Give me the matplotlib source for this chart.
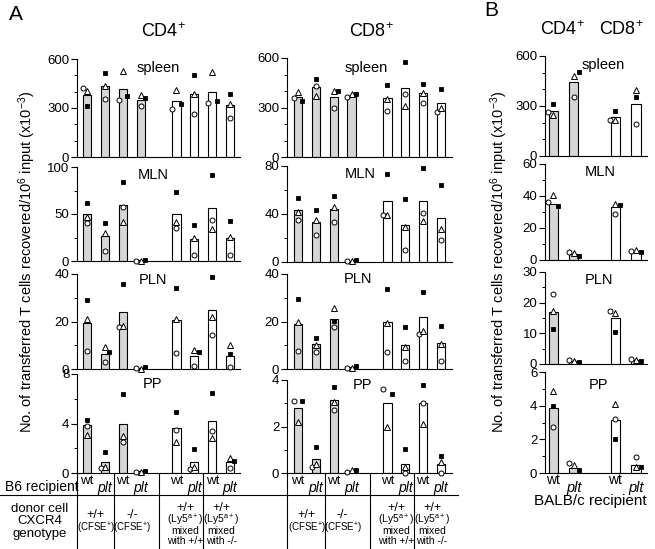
import numpy as np
import matplotlib
matplotlib.use("Agg")
import matplotlib.pyplot as plt
from matplotlib.lines import Line2D
from matplotlib.ticker import MultipleLocator
from matplotlib.transforms import blended_transform_factory

plt.rcParams['font.family'] = ['Liberation Sans', 'DejaVu Sans']
plt.rcParams['mathtext.fontset'] = 'custom'
plt.rcParams['mathtext.rm'] = 'Liberation Sans'
plt.rcParams['mathtext.it'] = 'Liberation Sans:italic'
plt.rcParams['mathtext.bf'] = 'Liberation Sans:bold'

# ------------------------------------------------------------------ data
# Panel A, CD4+ (8 bars: wt/plt recipients x 4 donor groups)
CD4_SPLEEN_BAR = [378, 434, 416, 352, 345, 386, 400, 316]
CD4_SPLEEN_O = [420, 354, 348, 314, 296, 265, 331, 238]
CD4_SPLEEN_T = [405, 434, 527, 379, 410, 385, 523, 327]
CD4_SPLEEN_S = [310, 513, 374, 362, 323, 503, 341, 383]

CD4_MLN_BAR = [50, 27, 60, 0.7, 50, 23.5, 56, 25]
CD4_MLN_O = [40.6, 11, 57, 0.5, 35.5, 6.5, 43.5, 6.5]
CD4_MLN_T = [47, 30, 42, 0.4, 42, 24.6, 34, 25.5]
CD4_MLN_S = [62, 40.6, 84, 1.2, 73, 38, 91, 42.8]

CD4_PLN_BAR = [19.3, 6.4, 23.8, 0.5, 20.7, 5.5, 25, 5.6]
CD4_PLN_O = [7.6, 3.1, 17.5, 0.3, 6.9, 1.4, 14.4, 1.0]
CD4_PLN_T = [21, 9.2, 17.9, 0.2, 21, 8, 22, 9.9]
CD4_PLN_S = [28.9, 7.3, 35.8, 0.9, 34, 7, 38.6, 6.3]

CD4_PP_BAR = [3.9, 0.9, 4.0, 0.13, 3.6, 0.9, 4.2, 0.9]
CD4_PP_O = [3.8, 0.4, 2.5, 0.1, 3.5, 0.35, 3.4, 0.4]
CD4_PP_T = [3.1, 0.5, 3.0, 0.1, 2.5, 0.5, 2.8, 1.2]
CD4_PP_S = [4.3, 1.7, 6.4, 0.2, 4.9, 1.9, 6.5, 0.93]

# Panel A, CD8+
CD8_SPLEEN_BAR = [362, 427, 366, 370, 356, 417, 386, 330]
CD8_SPLEEN_O = [356, 431, 299, 366, 279, 380, 330, 275]
CD8_SPLEEN_T = [393, 372, 397, 380, 352, 309, 386, 295]
CD8_SPLEEN_S = [340, 474, 403, 380, 437, 574, 441, 411]

CD8_MLN_BAR = [43, 33, 44, 1.0, 50.5, 30.5, 51, 36.7]
CD8_MLN_O = [34.7, 22.8, 33, 0.8, 39.4, 10.3, 40.8, 18.6]
CD8_MLN_T = [41.7, 35, 46, 0.5, 39.4, 29, 34.4, 27.5]
CD8_MLN_S = [53, 43, 55, 1.5, 73.6, 52.5, 78, 64.4]

CD8_PLN_BAR = [19, 10.4, 21, 0.7, 19.6, 10, 21.7, 10.8]
CD8_PLN_O = [7.6, 7.3, 17.5, 0.5, 7.3, 3.4, 14.6, 3.4]
CD8_PLN_T = [20, 9.9, 25.6, 0.3, 19.3, 9.2, 15.8, 10.4]
CD8_PLN_S = [29.6, 13, 20.4, 1.4, 33.8, 17.6, 32.4, 18.2]

CD8_PP_BAR = [2.8, 0.62, 3.15, 0.1, 3.0, 0.4, 3.0, 0.4]
CD8_PP_O = [3.1, 0.26, 2.7, 0.05, 3.6, 0.0, 3.0, 0.0]
CD8_PP_T = [2.2, 0.4, 3.05, 0.12, 2.0, 0.26, 2.1, 0.46]
CD8_PP_S = [3.1, 1.1, 3.7, 0.12, 3.4, 1.05, 3.8, 0.75]

# Panel B (CD4 wt, CD4 plt, CD8 wt, CD8 plt), BALB/c recipients
B_SPLEEN_BAR = [272, 446, 232, 312]
B_SPLEEN_O = [266, 352, 216, 192]
B_SPLEEN_T = [246, 480, 216, 396]
B_SPLEEN_S = [312, 506, 270, 356]

B_MLN_BAR = [35, 3.5, 33, 5.5]
B_MLN_O = [36.3, 5.1, 29, 5.5]
B_MLN_T = [40.8, 4.1, 35.3, 6.1]
B_MLN_S = [33.7, 2.4, 34.3, 4.9]

B_PLN_BAR = [17, 0.9, 14.9, 1.3]
B_PLN_O = [22.7, 1.2, 17.2, 1.5]
B_PLN_T = [17.2, 1.0, 16.5, 1.3]
B_PLN_S = [11.5, 0.7, 10.4, 1.0]

B_PP_BAR = [3.86, 0.3, 3.17, 0.45]
B_PP_O = [2.73, 0.6, 3.23, 0.93]
B_PP_T = [4.9, 0.45, 4.1, 0.34]
B_PP_S = [3.96, 0.16, 2.04, 0.34]

ORGANS = ['spleen', 'MLN', 'PLN', 'PP']
RECIPIENT_LABELS = ['wt', 'plt']
GENOTYPE_TOP = ['+/+', '-/-', '+/+', '+/+']
GENOTYPE_SUB_A = ['(CFSE$^{\\mathregular{+}}$)', '(CFSE$^{\\mathregular{+}}$)']
MIXED_WITH = ['with +/+', 'with -/-']

# ------------------------------------------------------------------ layout
W, H = 655, 549
fig = plt.figure(figsize=(W / 100, H / 100), dpi=100)
fig.patch.set_facecolor('white')


def fx(p):
    return p / W


def fy(p):
    return 1 - p / H


def rect(l, t, r, b):
    return [fx(l), fy(b), (r - l) / W, (b - t) / H]


GREY = '#d6d6d6'
A_POS = np.array([0, 1, 2, 3, 5, 6, 7, 8])
B_POS = np.array([0, 1, 3, 4])
A_FILL = [GREY] * 4 + ['white'] * 4
B_FILL = [GREY] * 2 + ['white'] * 2
OFFS = {'o': -0.24, '^': 0.0, 's': 0.24}


def draw(ax, pos, fill, width, bars, o, t, s, ymax, major, minor):
    ax.bar(pos, bars, width=width, color=fill, edgecolor='black',
           linewidth=0.8, zorder=2)
    pos = np.asarray(pos, float)
    vals = {'o': np.asarray(o, float), '^': np.asarray(t, float),
            's': np.asarray(s, float)}
    thr = 0.055 * ymax
    for m, v in vals.items():
        xs = []
        for i in range(len(pos)):
            others = [vals[k][i] for k in vals if k != m]
            coll = any(abs(v[i] - ov) < thr for ov in others)
            xs.append(pos[i] + (OFFS[m] if coll else 0.0))
        if m == 's':
            ax.plot(xs, v, 's', ms=3.4, mfc='black', mec='black', mew=0.6,
                    zorder=4, clip_on=False)
        elif m == 'o':
            ax.plot(xs, v, 'o', ms=3.6, mfc='white', mec='black', mew=0.7,
                    zorder=3, clip_on=False)
        else:
            ax.plot(xs, v, '^', ms=3.8, mfc='white', mec='black', mew=0.7,
                    zorder=3, clip_on=False)
    ax.set_ylim(0, ymax)
    ax.yaxis.set_major_locator(MultipleLocator(major))
    ax.yaxis.set_minor_locator(MultipleLocator(minor))
    for sp in ['top', 'right']:
        ax.spines[sp].set_visible(False)
    ax.spines['left'].set_linewidth(0.8)
    ax.spines['bottom'].set_linewidth(0.8)
    ax.set_xticks([])
    ax.tick_params(axis='y', which='major', direction='out', length=4,
                   width=0.8, labelsize=9.5, pad=1.5)
    ax.tick_params(axis='y', which='minor', direction='out', length=2.5,
                   width=0.7)
    ax.patch.set_alpha(0)


# rows: (top px, bottom px)
ROWS_CD4 = [(59, 157), (167, 261), (274, 369), (374, 473)]
ROWS_CD8 = [(58, 157), (166, 262), (274, 369), (380, 473)]
ROWS_B = [(56, 156), (164, 260), (272, 364), (372, 473)]

SCALES_CD4 = [(600, 300, 100), (100, 50, 25), (40, 20, 10), (8, 4, 2)]
SCALES_CD8 = [(600, 300, 100), (80, 40, 20), (40, 20, 10), (4, 2, 1)]
SCALES_B = [(600, 300, 100), (60, 20, 10), (30, 10, 5), (6, 2, 1)]

CD4_DATA = [
    (CD4_SPLEEN_BAR, CD4_SPLEEN_O, CD4_SPLEEN_T, CD4_SPLEEN_S),
    (CD4_MLN_BAR, CD4_MLN_O, CD4_MLN_T, CD4_MLN_S),
    (CD4_PLN_BAR, CD4_PLN_O, CD4_PLN_T, CD4_PLN_S),
    (CD4_PP_BAR, CD4_PP_O, CD4_PP_T, CD4_PP_S),
]
CD8_DATA = [
    (CD8_SPLEEN_BAR, CD8_SPLEEN_O, CD8_SPLEEN_T, CD8_SPLEEN_S),
    (CD8_MLN_BAR, CD8_MLN_O, CD8_MLN_T, CD8_MLN_S),
    (CD8_PLN_BAR, CD8_PLN_O, CD8_PLN_T, CD8_PLN_S),
    (CD8_PP_BAR, CD8_PP_O, CD8_PP_T, CD8_PP_S),
]
B_DATA = [
    (B_SPLEEN_BAR, B_SPLEEN_O, B_SPLEEN_T, B_SPLEEN_S),
    (B_MLN_BAR, B_MLN_O, B_MLN_T, B_MLN_S),
    (B_PLN_BAR, B_PLN_O, B_PLN_T, B_PLN_S),
    (B_PP_BAR, B_PP_O, B_PP_T, B_PP_S),
]

LABEL_XY_CD4 = [(158, 68), (153, 175), (153, 280), (153, 384)]
LABEL_XY_CD8 = [(366, 68), (360, 174), (358, 279), (362, 385)]
LABEL_XY_B = [(603, 65), (600, 172), (599, 280), (599, 385)]

panels = [
    ((77, 240), (-0.56, 8.55), ROWS_CD4, SCALES_CD4, CD4_DATA, LABEL_XY_CD4, A_POS, A_FILL, 0.46),
    ((287, 452), (-0.61, 8.61), ROWS_CD8, SCALES_CD8, CD8_DATA, LABEL_XY_CD8, A_POS, A_FILL, 0.46),
    ((545, 647), (-0.39, 4.53), ROWS_B, SCALES_B, B_DATA, LABEL_XY_B, B_POS, B_FILL, 0.44),
]

pp_axes = []
for (xl, xr), xlim, rows, scales, data, lxy, pos, fill, width in panels:
    for k in range(4):
        t, b = rows[k]
        ax = fig.add_axes(rect(xl, t, xr, b))
        ymax, major, minor = scales[k]
        bars, o, tt, s = data[k]
        draw(ax, pos, fill, width, bars, o, tt, s, ymax, major, minor)
        ax.set_xlim(*xlim)
        fig.text(fx(lxy[k][0]), fy(lxy[k][1]), ORGANS[k], ha='center',
                 va='center', fontsize=10.5)
        if k == 3:
            pp_axes.append(ax)

# ------------------------------------------------------------------ titles
fig.text(fx(16), fy(15), 'A', ha='center', va='center', fontsize=15)
fig.text(fx(491), fy(11), 'B', ha='center', va='center', fontsize=15)
fig.text(fx(163), fy(32), 'CD4$^{\\mathregular{+}}$', ha='center', va='center', fontsize=13)
fig.text(fx(371), fy(32), 'CD8$^{\\mathregular{+}}$', ha='center', va='center', fontsize=13)
fig.text(fx(562), fy(30), 'CD4$^{\\mathregular{+}}$', ha='center', va='center', fontsize=13)
fig.text(fx(621), fy(30), 'CD8$^{\\mathregular{+}}$', ha='center', va='center', fontsize=13)

YLAB = 'No. of transferred T cells recovered/10$^{\\mathregular{6}}$ input (x10$^{\\mathregular{-3}}$)'
fig.text(fx(27), fy(262), YLAB, rotation=90, ha='center', va='center', fontsize=10.5)
fig.text(fx(499), fy(262), YLAB, rotation=90, ha='center', va='center', fontsize=10.5)

# ------------------------------------------------------------------ table (panel A)
fig.add_artist(Line2D([0, fx(458)], [fy(495), fy(495)], color='black', lw=0.8))
fig.text(fx(5), fy(487), 'B6 recipient', ha='left', va='center', fontsize=10)
for i, txt in enumerate(['donor cell', 'CXCR4', 'genotype']):
    fig.text(fx(40), fy(509 + 12.5 * i), txt, ha='center', va='center', fontsize=9.5)

SEPS = [None, 1.5, 4.0, 6.5]
for ax in pp_axes[:2]:
    tr = blended_transform_factory(ax.transData, fig.transFigure)
    x0 = ax.get_xlim()[0]
    for sx in SEPS:
        xx = x0 if sx is None else sx
        fig.add_artist(Line2D([xx, xx], [fy(473), fy(549)], color='black',
                              lw=0.8, transform=tr))
    for g in range(4):
        p_wt, p_plt = A_POS[2 * g], A_POS[2 * g + 1]
        fig.text(p_wt, fy(481), RECIPIENT_LABELS[0], transform=tr,
                 ha='center', va='center', fontsize=9.5)
        fig.text(p_plt, fy(488), RECIPIENT_LABELS[1], transform=tr,
                 ha='center', va='center', fontsize=10, style='italic')
        cx = (p_wt + p_plt) / 2
        if g < 2:
            fig.text(cx, fy(515), GENOTYPE_TOP[g], transform=tr, ha='center',
                     va='center', fontsize=9)
            fig.text(cx, fy(528), GENOTYPE_SUB_A[g], transform=tr, ha='center',
                     va='center', fontsize=7)
        else:
            fig.text(cx, fy(508), GENOTYPE_TOP[g], transform=tr, ha='center',
                     va='center', fontsize=9)
            fig.text(cx, fy(520), '(Ly5$^{\\mathregular{a+}}$)', transform=tr,
                     ha='center', va='center', fontsize=7.5)
            fig.text(cx, fy(531), 'mixed', transform=tr, ha='center',
                     va='center', fontsize=7.5)
            fig.text(cx, fy(541.5), MIXED_WITH[g - 2], transform=tr,
                     ha='center', va='center', fontsize=7.5)

# panel B recipient labels
axb = pp_axes[2]
trb = blended_transform_factory(axb.transData, fig.transFigure)
for i, p in enumerate(B_POS):
    if i % 2 == 0:
        fig.text(p, fy(480), RECIPIENT_LABELS[0], transform=trb, ha='center',
                 va='center', fontsize=10)
    else:
        fig.text(p, fy(488), RECIPIENT_LABELS[1], transform=trb, ha='center',
                 va='center', fontsize=10.5, style='italic')
fig.text(fx(590), fy(501), 'BALB/c recipient', ha='center', va='center', fontsize=11)

fig.savefig('out.png', dpi=100, facecolor='white')
